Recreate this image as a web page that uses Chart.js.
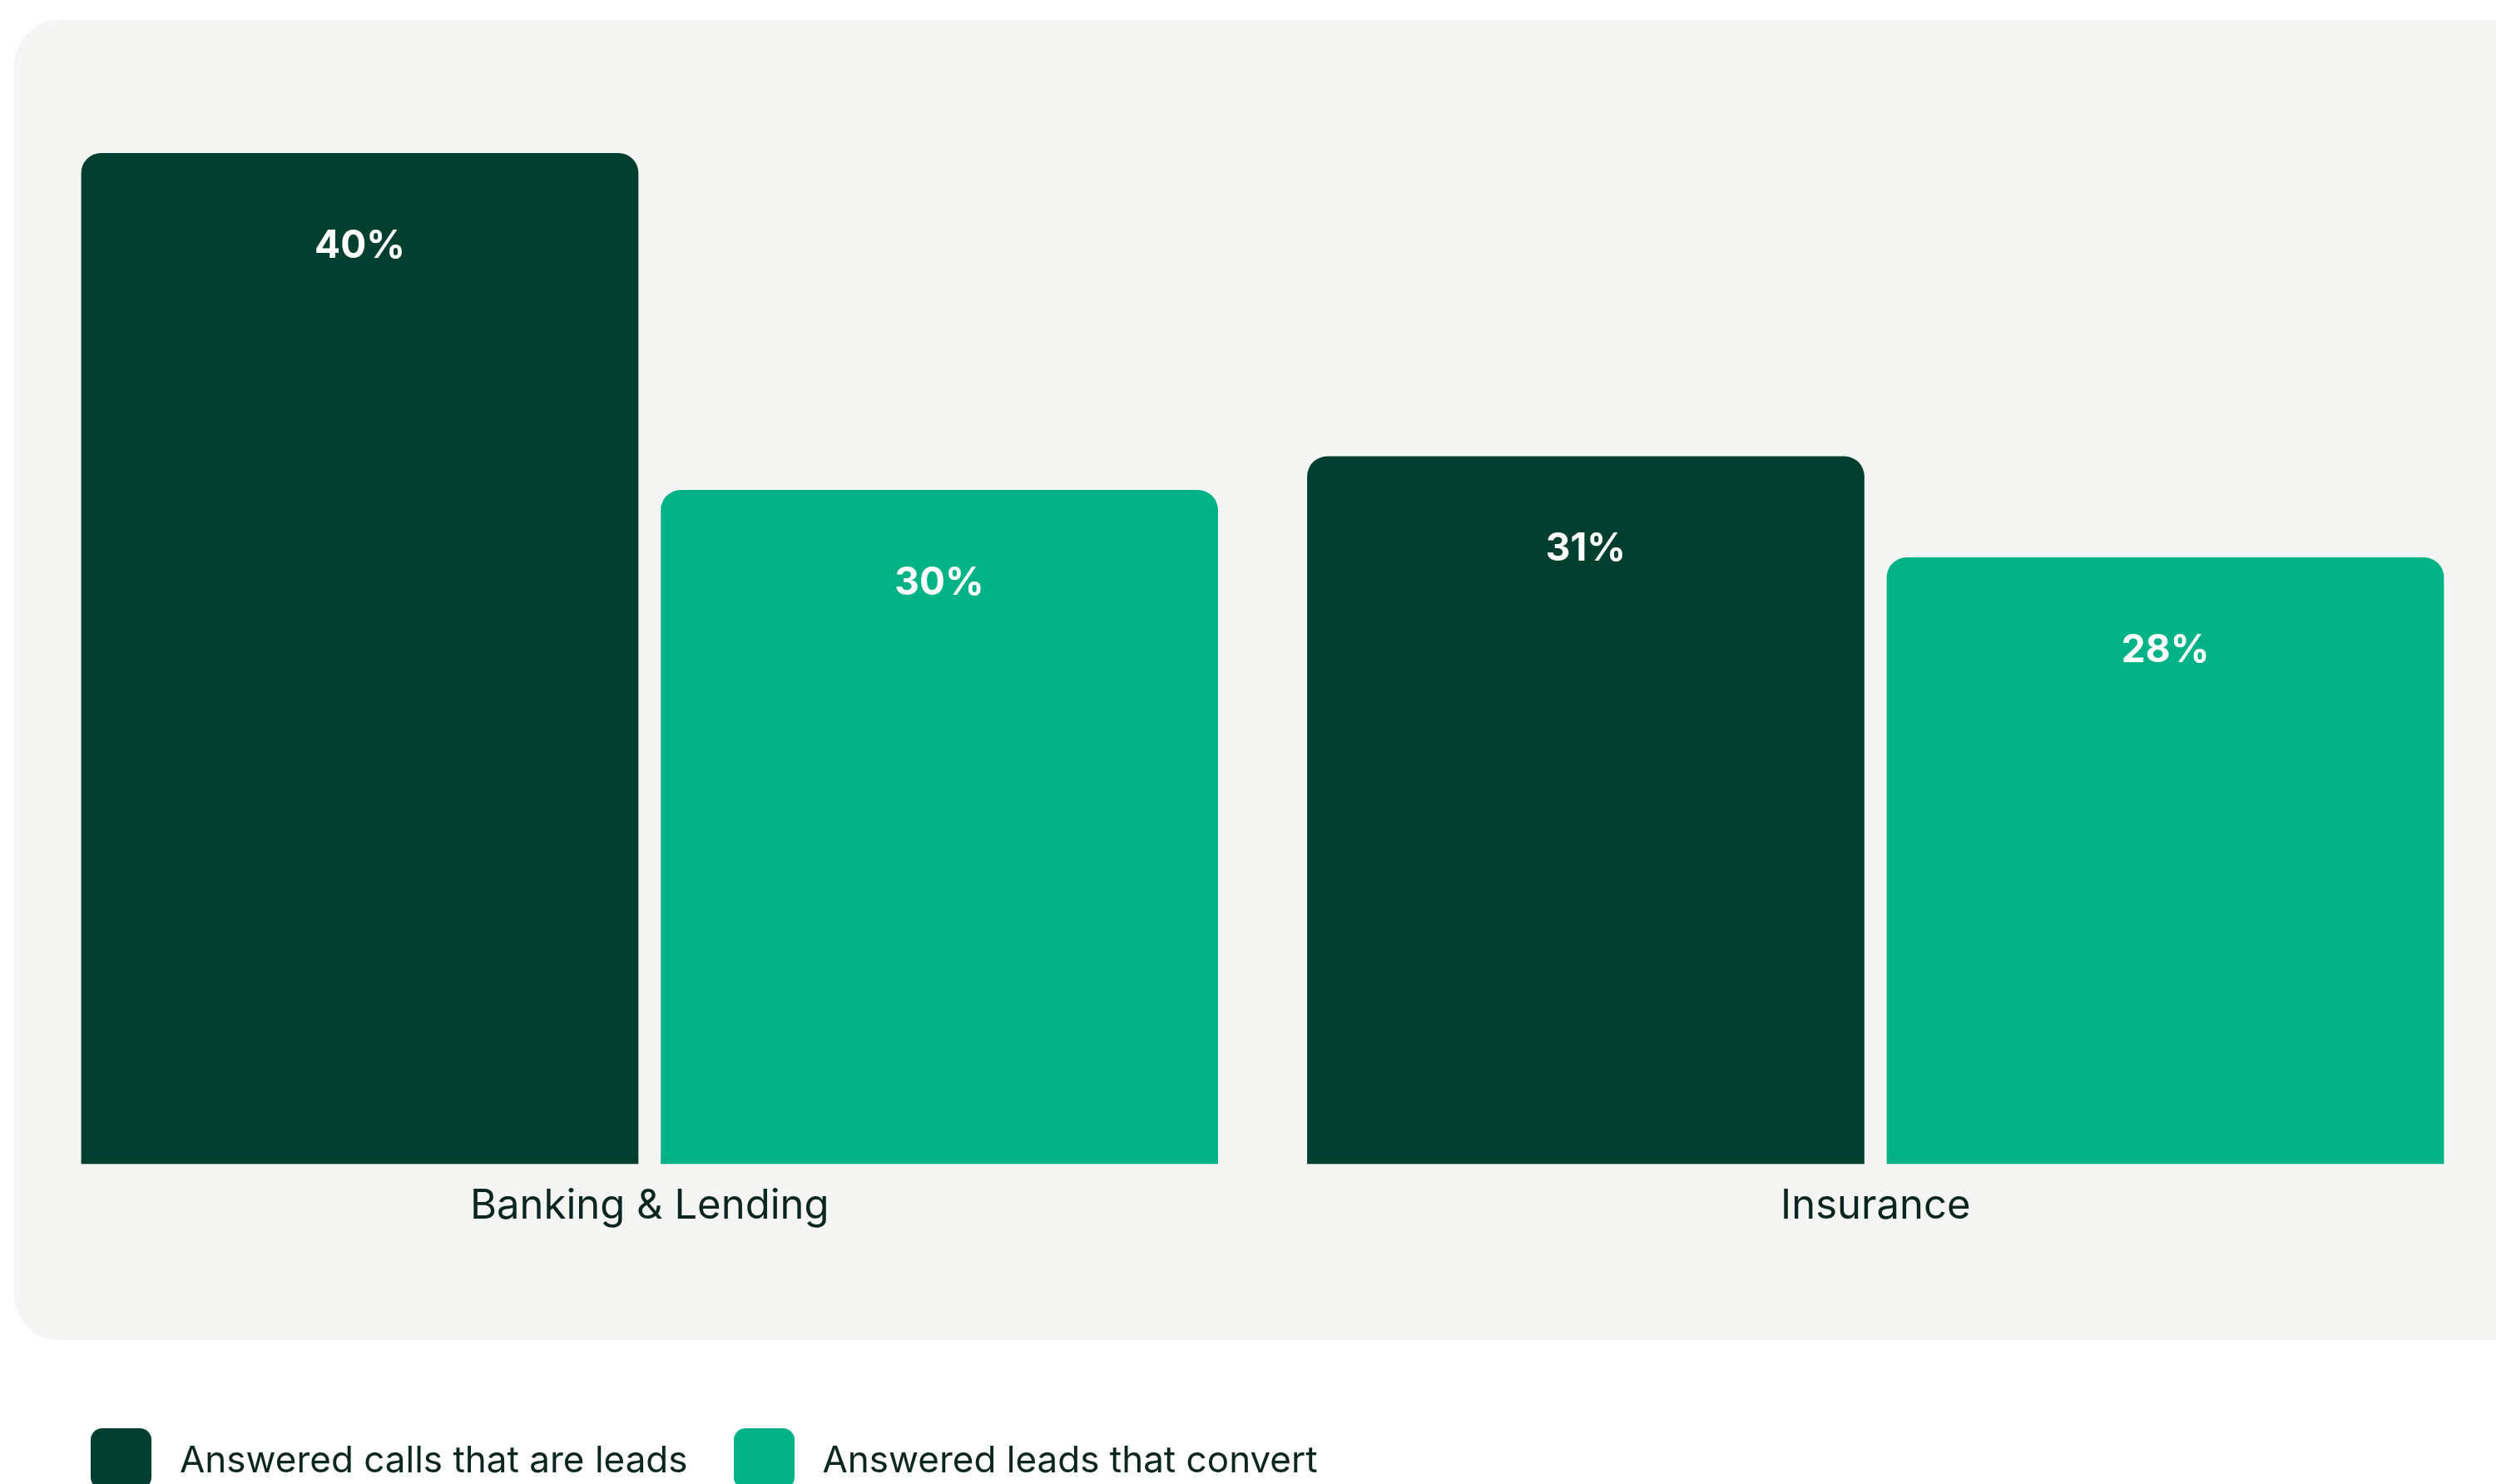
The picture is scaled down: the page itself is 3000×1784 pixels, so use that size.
<!DOCTYPE html>
<html>
<head>
<meta charset="utf-8">
<script src="https://cdn.jsdelivr.net/npm/chart.js@4.4.1/dist/chart.umd.min.js"></script>
<style>
    html, body {
        margin: 0;
        padding: 0;
        background: #ffffff;
        overflow: hidden;
    }
    #wrap {
        position: relative;
        width: 3000px;
        height: 1784px;
    }
    #chart {
        position: absolute;
        left: 0;
        top: 0;
    }
    #legend {
        position: absolute;
        left: 109px;
        top: 1717px;
        display: flex;
        align-items: center;
        font-family: Inter, 'Noto Sans', sans-serif;
        font-size: 44px;
        color: #0b2520;
    }
    .legend-item {
        display: flex;
        align-items: center;
        margin-right: 55px;
    }
    .legend-box {
        width: 73px;
        height: 73px;
        border-radius: 14px;
        margin-right: 34px;
    }
</style>
</head>
<body>
<div id="wrap">
    <canvas id="chart" width="3000" height="1784"></canvas>
    <div id="legend"></div>
</div>
<script>
const categories = ['Banking & Lending', 'Insurance'];
const seriesNames = ['Answered calls that are leads', 'Answered leads that convert'];
const callsThatAreLeads = [40, 31];
const leadsThatConvert = [30, 28];
const seriesColors = ['#003f2f', '#00b386'];

// white percentage labels sitting inside the top of each bar
const barValueLabels = {
    id: 'barValueLabels',
    afterDatasetsDraw(chart) {
        const ctx = chart.ctx;
        ctx.save();
        ctx.fillStyle = '#ffffff';
        ctx.font = 'bold 46px Inter, "Noto Sans", sans-serif';
        ctx.textAlign = 'center';
        ctx.textBaseline = 'middle';
        chart.data.datasets.forEach((ds, i) => {
            chart.getDatasetMeta(i).data.forEach((bar, j) => {
                ctx.fillText(ds.data[j] + '%', bar.x, bar.y + 112);
            });
        });
        ctx.restore();
    }
};

// light grey rounded card behind the plot
const cardBackground = {
    id: 'cardBackground',
    beforeDraw(chart) {
        const ctx = chart.ctx;
        ctx.save();
        ctx.fillStyle = '#f5f5f3';
        ctx.beginPath();
        ctx.roundRect(17, 24, 3040, 1587, 55);
        ctx.fill();
        ctx.restore();
    }
};

const ctx = document.getElementById('chart').getContext('2d');
const chart = new Chart(ctx, {
    type: 'bar',
    data: {
        labels: categories,
        datasets: [{
            label: seriesNames[0],
            data: callsThatAreLeads,
            backgroundColor: seriesColors[0]
        }, {
            label: seriesNames[1],
            data: leadsThatConvert,
            backgroundColor: seriesColors[1]
        }]
    },
    options: {
        responsive: false,
        animation: false,
        layout: {
            padding: { top: 184, left: 44, right: 9, bottom: 282 }
        },
        datasets: {
            bar: {
                categoryPercentage: 0.9455,
                barPercentage: 0.9615,
                borderRadius: { topLeft: 24, topRight: 24, bottomLeft: 0, bottomRight: 0 },
                borderSkipped: false
            }
        },
        scales: {
            x: {
                grid: { display: false, drawTicks: false },
                border: { display: false },
                ticks: {
                    padding: 22,
                    color: '#0b2520',
                    font: { family: 'Inter, "Noto Sans", sans-serif', size: 49 }
                }
            },
            y: {
                display: false,
                min: 10,
                max: 40
            }
        },
        plugins: {
            legend: { display: false },
            tooltip: { enabled: false }
        }
    },
    plugins: [cardBackground, barValueLabels]
});

// legend below the card
const legendEl = document.getElementById('legend');
seriesNames.forEach((name, i) => {
    const item = document.createElement('div');
    item.className = 'legend-item';
    item.innerHTML = `<div class="legend-box" style="background:${seriesColors[i]}"></div><span>${name}</span>`;
    legendEl.appendChild(item);
});
</script>
</body>
</html>
